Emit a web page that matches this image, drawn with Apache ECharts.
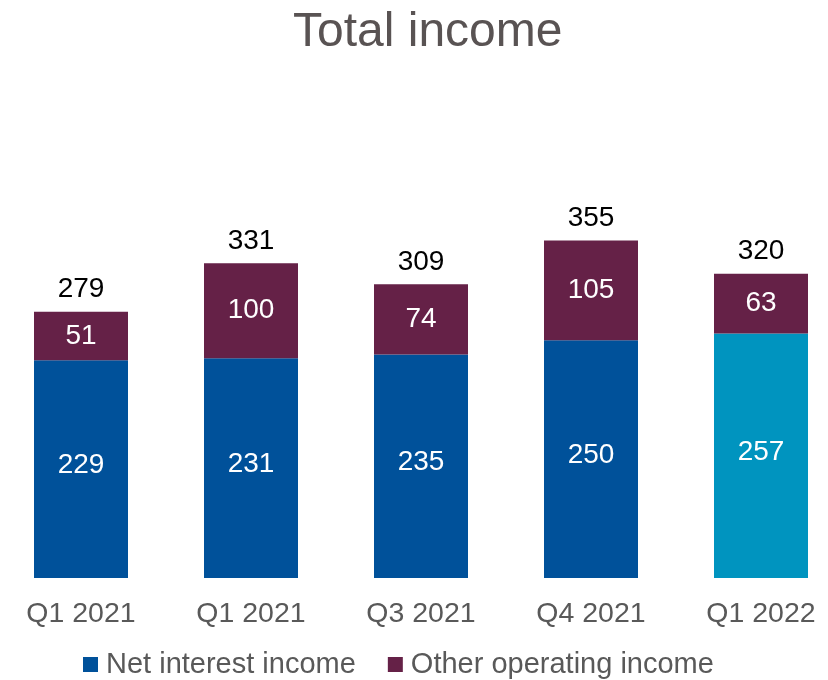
<!DOCTYPE html>
<html>
<head>
<meta charset="utf-8">
<script src="https://cdn.jsdelivr.net/npm/echarts@6/dist/echarts.min.js"></script>
<style>
  html, body { margin: 0; padding: 0; background: #ffffff; overflow: hidden; }
  /* the plot runs slightly past both page edges, so the canvas starts 4px to the left */
  #chart { position: relative; left: -4px; width: 854px; height: 680px; }
</style>
</head>
<body>
<div id="chart"></div>
<script>
// Quarterly income, split by source
const quarters = ['Q1 2021', 'Q1 2021', 'Q3 2021', 'Q4 2021', 'Q1 2022'];
const netInterestIncome = [229, 231, 235, 250, 257];
const otherOperatingIncome = [51, 100, 74, 105, 63];
const totalIncome = [279, 331, 309, 355, 320];

const FONT = '"Liberation Sans", Arial, sans-serif';
const BLUE = '#00519a';
const TEAL = '#0094bf';
const PURPLE = '#652147';

const chart = echarts.init(document.getElementById('chart'));

chart.setOption({
  animation: false,
  backgroundColor: '#ffffff',
  textStyle: { fontFamily: FONT },
  title: {
    text: 'Total income',
    left: 297,
    top: 9,
    padding: 0,
    textStyle: { fontFamily: FONT, fontSize: 48, fontWeight: 'normal', color: '#595353' }
  },
  legend: {
    data: ['Net interest income', 'Other operating income'],
    left: 87,
    top: 650,
    padding: 0,
    icon: 'rect',
    itemWidth: 15,
    itemHeight: 15,
    itemGap: 32,
    textStyle: { fontFamily: FONT, fontSize: 29, color: '#595959', padding: [0, 0, 0, 3] }
  },
  grid: { left: 0, width: 850, top: 197.6, bottom: 102 },
  xAxis: {
    type: 'category',
    data: quarters,
    axisLine: { show: false },
    axisTick: { show: false },
    axisLabel: { fontFamily: FONT, fontSize: 28.5, color: '#595959', margin: 22 }
  },
  yAxis: {
    type: 'value',
    min: 0,
    max: 400,
    show: false,
    splitLine: { show: false }
  },
  series: [
    {
      name: 'Net interest income',
      type: 'bar',
      stack: 'income',
      barWidth: 94,
      itemStyle: { color: BLUE },
      data: netInterestIncome.map((v, i) =>
        i === netInterestIncome.length - 1 ? { value: v, itemStyle: { color: TEAL } } : v),
      label: { show: true, position: 'inside', offset: [0, -4], fontFamily: FONT, fontSize: 28, color: '#ffffff' }
    },
    {
      name: 'Other operating income',
      type: 'bar',
      stack: 'income',
      barWidth: 94,
      itemStyle: { color: PURPLE },
      data: otherOperatingIncome,
      label: { show: true, position: 'inside', fontFamily: FONT, fontSize: 28, color: '#ffffff' }
    },
    {
      // zero-height cap carrying the total above each stack
      name: 'Total',
      type: 'bar',
      stack: 'income',
      barWidth: 94,
      itemStyle: { color: 'transparent' },
      data: totalIncome.map(() => 0),
      label: {
        show: true,
        position: 'top',
        distance: 8,
        fontFamily: FONT,
        fontSize: 28,
        color: '#000000',
        formatter: p => String(totalIncome[p.dataIndex])
      }
    }
  ]
});
</script>
</body>
</html>
